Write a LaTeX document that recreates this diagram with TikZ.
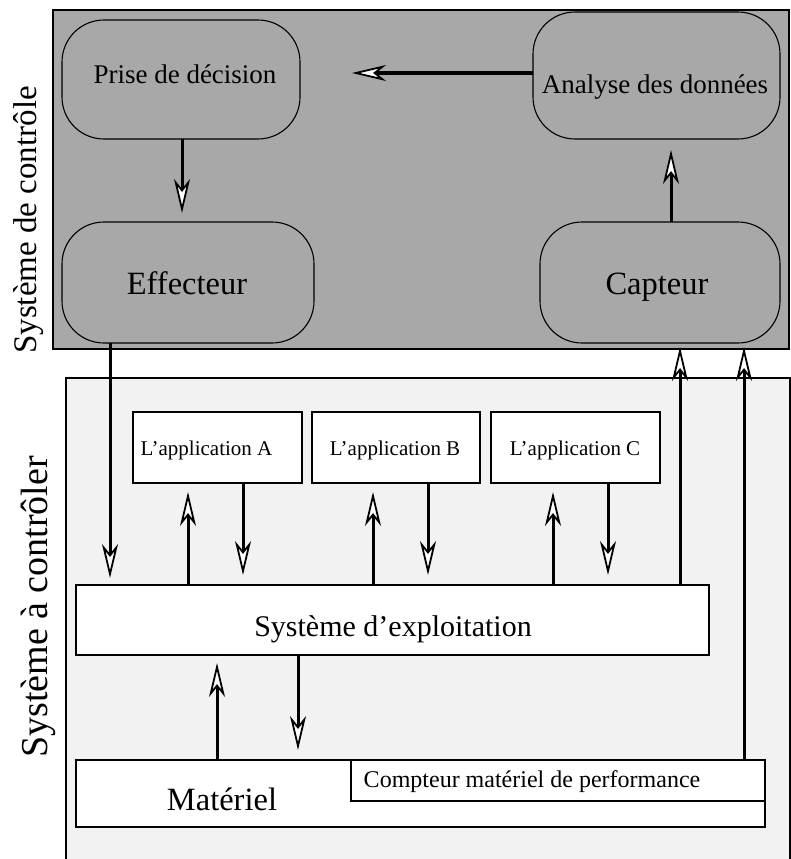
\documentclass[tikz,border=0pt]{standalone}
\usepackage{fontspec}
\setmainfont{Liberation Serif}
\usetikzlibrary{arrows.meta}
\definecolor{ctrlgray}{RGB}{168,168,168}
\definecolor{syslight}{RGB}{242,242,242}
\newcommand{\fs}[1]{\fontsize{#1}{#1}\selectfont}
\begin{document}
\begin{tikzpicture}[x=1pt,y=-1pt,
  zone/.style={draw, line width=1.2pt, inner sep=0pt, outer sep=0pt},
  rbox/.style={draw, line width=1.1pt, rounded corners=42pt, fill=ctrlgray, inner sep=0pt, outer sep=0pt},
  sbox/.style={draw, line width=1.1pt, fill=white, inner sep=0pt, outer sep=0pt},
  txt/.style={inner sep=0pt, anchor=base},
  flow/.style={-{Stealth[length=34pt,width=16pt,inset=10pt,fill=white,line width=0pt 0.6]},
    line width=3pt}
]
\useasboundingbox (0,0) rectangle (791,859);

% regions
\node[zone, fill=ctrlgray, minimum width=736pt, minimum height=339pt] (ctrlzone) at (421,179.5) {};
\node[zone, fill=syslight, minimum width=724pt, minimum height=486pt] (syszone) at (428,621) {};

% control system
\node[rbox, minimum width=238pt, minimum height=119pt] (prise) at (181,79.5) {};
\node[txt, font=\fs{27}] (prisetxt) at (185,83) {Prise de décision};
\node[rbox, minimum width=247pt, minimum height=127pt] (analyse) at (656.5,75.5) {};
\node[txt, font=\fs{27}] (analysetxt) at (655,93) {Analyse des données};
\node[rbox, minimum width=252pt, minimum height=121pt] (effecteur) at (188,282.5) {};
\node[txt, font=\fs{32.5}] (effecteurtxt) at (187,294) {Effecteur};
\node[rbox, minimum width=240pt, minimum height=121pt] (capteur) at (660,282.5) {};
\node[txt, font=\fs{32.5}] (capteurtxt) at (657,294) {Capteur};

% controlled system
\node[sbox, minimum width=169pt, minimum height=71pt] (appA) at (217.5,447.5) {};
\node[txt, font=\fs{21}] (appAtxt) at (206.5,455) {L’application A};
\node[sbox, minimum width=168pt, minimum height=71pt] (appB) at (396,447.5) {};
\node[txt, font=\fs{21}] (appBtxt) at (395,455) {L’application B};
\node[sbox, minimum width=169pt, minimum height=71pt] (appC) at (575.5,447.5) {};
\node[txt, font=\fs{21}] (appCtxt) at (575,455) {L’application C};
\node[sbox, minimum width=633pt, minimum height=70pt] (os) at (392.5,620) {};
\node[txt, font=\fs{30}] (ostxt) at (393,636) {Système d’exploitation};
\node[sbox, minimum width=689pt, minimum height=67pt] (materiel) at (420.5,793.5) {};
\node[txt, font=\fs{32.5}] (materieltxt) at (222,810) {Matériel};
\node[sbox, minimum width=414pt, minimum height=41pt] (compteur) at (558,780.5) {};
\node[txt, font=\fs{24}] (compteurtxt) at (532,787) {Compteur matériel de performance};

% side titles
\node[inner sep=0pt, rotate=90, font=\fs{33}] (ctrltitle) at (29,220) {Système de contrôle};
\node[inner sep=0pt, rotate=90, font=\fs{38}] (systitle) at (38,607) {Système à contrôler};

% x positions of the vertical links
\coordinate (xe) at (110,0);
\coordinate (xpd) at (182,0);
\coordinate (xca) at (671,0);
\coordinate (xAu) at (188,0);
\coordinate (xAd) at (243,0);
\coordinate (xBu) at (373,0);
\coordinate (xBd) at (428,0);
\coordinate (xCu) at (553,0);
\coordinate (xCd) at (608,0);
\coordinate (xoc) at (680,0);
\coordinate (xmc) at (744,0);
\coordinate (xmu) at (217,0);
\coordinate (xmd) at (298,0);

% control loop
\draw[flow, shorten >=52pt] ([yshift=2.5pt]analyse.west) -- ([yshift=2.5pt]analyse.west -| prise.east);
\draw[flow, shorten >=9pt] (xpd |- prise.south) -- (xpd |- effecteur.north);
\draw[flow, shorten >=11pt] (xca |- capteur.north) -- (xca |- analyse.south);
\draw[flow, shorten >=7pt] (xe |- effecteur.south) -- (xe |- os.north);

% applications and operating system
\draw[flow, shorten >=9pt] (xAu |- os.north) -- (xAu |- appA.south);
\draw[flow, shorten >=10pt] (xAd |- appA.south) -- (xAd |- os.north);
\draw[flow, shorten >=9pt] (xBu |- os.north) -- (xBu |- appB.south);
\draw[flow, shorten >=10pt] (xBd |- appB.south) -- (xBd |- os.north);
\draw[flow, shorten >=9pt] (xCu |- os.north) -- (xCu |- appC.south);
\draw[flow, shorten >=10pt] (xCd |- appC.south) -- (xCd |- os.north);

% operating system and hardware
\draw[flow, shorten >=8pt] (xmu |- materiel.north) -- (xmu |- os.south);
\draw[flow, shorten >=10pt] (xmd |- os.south) -- (xmd |- materiel.north);

% measurements to the sensor
\draw[flow, shorten >=-2pt] (xoc |- os.north) -- (xoc |- ctrlzone.south);
\draw[flow, shorten >=-2pt] (xmc |- materiel.north) -- (xmc |- ctrlzone.south);
\end{tikzpicture}
\end{document}
